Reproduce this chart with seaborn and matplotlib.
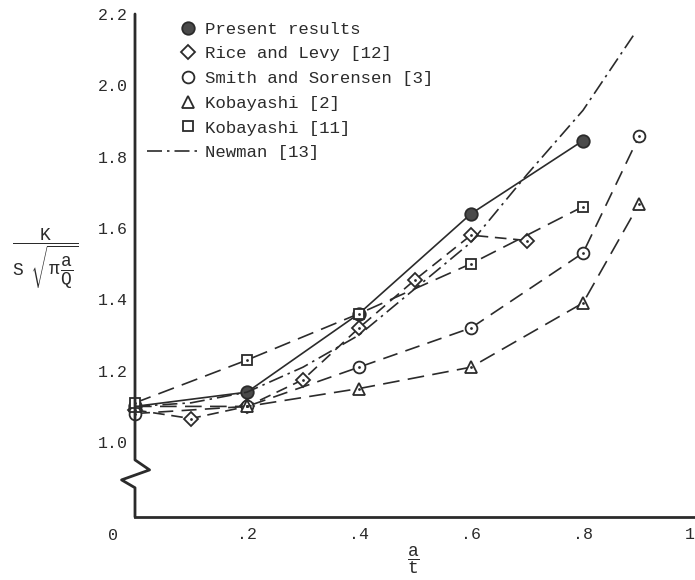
import pandas as pd
import matplotlib
matplotlib.use("Agg")
import matplotlib.pyplot as plt
import matplotlib.transforms as mtransforms
from matplotlib.lines import Line2D
import seaborn as sns

# values: a/t and K / (S sqrt(pi a/Q))
present_x = [0.0, 0.2, 0.4, 0.6, 0.8]
present_k = [1.10, 1.14, 1.36, 1.64, 1.845]
rice_x = [0.0, 0.1, 0.2, 0.3, 0.4, 0.5, 0.6, 0.7]
rice_k = [1.09, 1.066, 1.10, 1.175, 1.32, 1.455, 1.58, 1.565]
smith_x = [0.0, 0.2, 0.4, 0.6, 0.8, 0.9]
smith_k = [1.08, 1.10, 1.21, 1.32, 1.53, 1.857]
kob2_x = [0.0, 0.2, 0.4, 0.6, 0.8, 0.9]
kob2_k = [1.10, 1.10, 1.15, 1.21, 1.39, 1.667]
kob11_x = [0.0, 0.2, 0.4, 0.6, 0.8]
kob11_k = [1.11, 1.23, 1.36, 1.50, 1.66]
newman_x = [0.0, 0.1, 0.2, 0.3, 0.4, 0.5, 0.6, 0.7, 0.8, 0.89]
newman_k = [1.10, 1.11, 1.14, 1.21, 1.30, 1.43, 1.56, 1.75, 1.93, 2.14]

labels = ["Present results", "Rice and Levy [12]", "Smith and Sorensen [3]",
          "Kobayashi [2]", "Kobayashi [11]", "Newman [13]"]
xtick_vals = [0.2, 0.4, 0.6, 0.8, 1.0]
xtick_labels = [".2", ".4", ".6", ".8", "1"]
ytick_vals = [1.0, 1.2, 1.4, 1.6, 1.8, 2.0, 2.2]
ytick_labels = ["1.0", "1.2", "1.4", "1.6", "1.8", "2.0", "2.2"]

frames = []
for name, xs, ks in zip(labels,
                        [present_x, rice_x, smith_x, kob2_x, kob11_x, newman_x],
                        [present_k, rice_k, smith_k, kob2_k, kob11_k, newman_k]):
    frames.append(pd.DataFrame({"source": name, "a_t": xs, "K": ks}))
df = pd.concat(frames, ignore_index=True)

sns.set_style("white")
plt.rcParams["font.family"] = ["Liberation Mono", "DejaVu Sans"]
plt.rcParams["mathtext.fontset"] = "custom"
plt.rcParams["mathtext.rm"] = "Liberation Mono"
plt.rcParams["mathtext.it"] = "Liberation Mono"

ink = "#2b2b2b"
styles = {
    "Present results": dict(ls="-", marker="o", ms=9, mfc="#4a4a4a", dot=False),
    "Rice and Levy [12]": dict(ls=(0, (7, 4)), marker="D", ms=7.5, mfc="white", dot=True),
    "Smith and Sorensen [3]": dict(ls=(0, (9, 5)), marker="o", ms=8.5, mfc="white", dot=True),
    "Kobayashi [2]": dict(ls=(0, (10, 5)), marker="^", ms=9, mfc="white", dot=True),
    "Kobayashi [11]": dict(ls=(0, (10, 5)), marker="s", ms=7.5, mfc="white", dot=True),
    "Newman [13]": dict(ls=(0, (9, 3, 1.5, 3)), marker=None, ms=0, mfc="white", dot=False),
}

fig = plt.figure(figsize=(6.95, 5.8), dpi=100)
ax = fig.add_axes([135 / 695, 63 / 580, 560 / 695, 503 / 580])

for name in labels:
    st = styles[name]
    sub = df[df["source"] == name]
    sns.lineplot(data=sub, x="a_t", y="K", ax=ax, color=ink, linewidth=1.2,
                 linestyle=st["ls"], marker=st["marker"], markersize=st["ms"],
                 markerfacecolor=st["mfc"], markeredgecolor=ink,
                 markeredgewidth=1.3, sort=False, legend=False, clip_on=False)
    if st["dot"]:
        sns.scatterplot(data=sub, x="a_t", y="K", ax=ax, color=ink, s=4,
                        linewidth=0, legend=False, zorder=5, clip_on=False)

ax.set_xlim(0, 1.0)
ax.set_ylim(0.79, 2.2)
ax.set_xticks(xtick_vals)
ax.set_xticklabels(xtick_labels)
ax.set_yticks(ytick_vals)
ax.set_yticklabels(ytick_labels)
ax.tick_params(direction="in", length=5, width=1.5, colors=ink, labelsize=12)
ax.tick_params(axis="x", pad=7)
ax.tick_params(axis="y", pad=5)
ax.get_xticklabels()[-1].set_horizontalalignment("right")
ax.set_xlabel("")
ax.set_ylabel("")

for side in ["top", "right", "left"]:
    ax.spines[side].set_visible(False)
ax.spines["bottom"].set_linewidth(2)
ax.spines["bottom"].set_color(ink)

# left axis drawn by hand with the break zigzag
trans = mtransforms.blended_transform_factory(ax.transAxes, ax.transData)
ax.add_line(Line2D([0, 0, 0.026, -0.024, 0, 0], [2.2, 0.95, 0.922, 0.894, 0.872, 0.79],
                   transform=trans, color=ink, lw=2, clip_on=False, zorder=6))

xtrans = mtransforms.blended_transform_factory(ax.transData, ax.transAxes)
ax.text(-0.04, -0.036, "0", transform=xtrans, ha="center", va="center",
        fontsize=12, color=ink)

handles = []
for name in labels:
    st = styles[name]
    if st["marker"] is None:
        handles.append(Line2D([], [], color=ink, lw=1.2, linestyle=st["ls"]))
    else:
        handles.append(Line2D([], [], color=ink, lw=0, marker=st["marker"],
                              markersize=st["ms"], markerfacecolor=st["mfc"],
                              markeredgecolor=ink, markeredgewidth=1.3))
leg = ax.legend(handles, labels, loc="upper left", bbox_to_anchor=(0.021, 0.985),
                frameon=False, fontsize=12.5, handlelength=3.0, handletextpad=0.35,
                labelspacing=0.55, borderpad=0, borderaxespad=0, labelcolor=ink)
# markers in the reference key sit close to the text
for h in leg.legend_handles[:5]:
    h.set_xdata([h.get_xdata()[0] + 29.5] * len(h.get_xdata()))

fig.text(45 / 695, 1 - 259 / 580,
         r"$\dfrac{\mathrm{K}}{\mathrm{S}\ \ \sqrt{\pi\,\dfrac{\mathrm{a}}{\mathrm{Q}}}}$",
         ha="center", va="center", fontsize=13, color=ink)
fig.text(413 / 695, 1 - 560 / 580, r"$\dfrac{\mathrm{a}}{\mathrm{t}}$",
         ha="center", va="center", fontsize=13, color=ink)

fig.savefig("out.png", dpi=100, facecolor="white")
